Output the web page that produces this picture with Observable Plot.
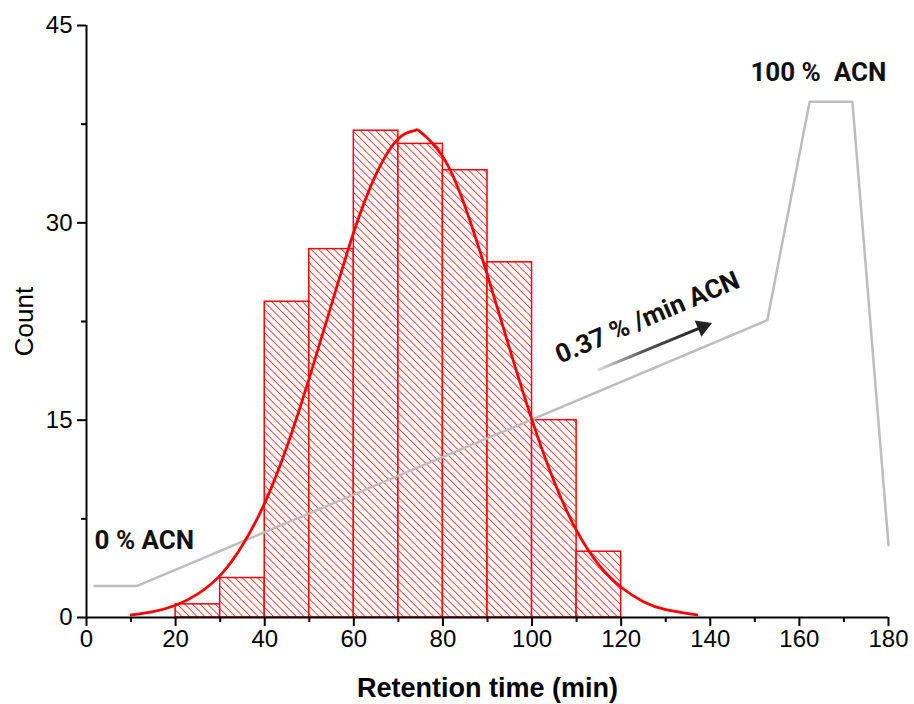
<!DOCTYPE html>
<html><head><meta charset="utf-8">
<script src="https://cdn.jsdelivr.net/npm/d3@7"></script>
<script src="https://cdn.jsdelivr.net/npm/@observablehq/plot@0.6"></script>
<style>body{margin:0;background:#fff}</style>
</head><body><div id="chart"></div>
<script>
// Histogram bins (retention time, min) and counts
const binStart = [20, 30, 40, 50, 60, 70, 80, 90, 100, 110];
const binEnd   = [30, 40, 50, 60, 70, 80, 90, 100, 110, 120];
const counts   = [1, 3, 24, 28, 37, 36, 34, 27, 15, 5];

// Fitted curve
const fitX = [10, 15, 20, 25, 30, 35, 40, 45, 50, 55, 60, 65, 70, 73.5, 75, 80, 85, 90, 95, 100, 105, 110, 115, 120, 125, 130, 137];
const fitY = [0.2, 0.45, 0.93, 1.8, 3.2, 5.5, 8.7, 13.0, 18.2, 23.8, 29.3, 33.7, 36.4, 37.0, 36.9, 35.0, 31.2, 26.0, 20.4, 15.0, 10.3, 6.6, 4.0, 2.3, 1.2, 0.6, 0.2];

// ACN gradient profile (gray line), in count-axis units
const gradX = [1.8, 11.4, 152.8, 162.3, 171.9, 180];
const gradY = [2.4, 2.4, 22.6, 39.2, 39.2, 5.5];

// Axis ticks
const xTicks = [0, 20, 40, 60, 80, 100, 120, 140, 160, 180];
const xMinorTicks = [10, 30, 50, 70, 90, 110, 130, 150, 170];
const yTicks = [0, 15, 30, 45];
const yMinorTicks = [7.5, 22.5, 37.5];

// Annotations
const labels = [
  {x: 1.8, y: 5.85, text: "0 % ACN", rotate: 0},
  {x: 149, y: 41.4, text: "100 %\u00a0 ACN", rotate: 0},
  {x: 125.9, y: 22.8, text: "0.37 % /min ACN", rotate: -23}
];
const arrowLine = [{x1: 114.7, y1: 18.8, x2: 137.6, y2: 22.0}];
const arrowHead = [{x: 138.3, y: 22.1}];

const bins = binStart.map((s, i) => ({x1: s, x2: binEnd[i], y: counts[i]}));
const fit = fitX.map((x, i) => ({x, y: fitY[i]}));
const grad = gradX.map((x, i) => ({x, y: gradY[i]}));

const plot = Plot.plot({
  width: 914, height: 704,
  marginLeft: 86, marginRight: 26, marginTop: 25, marginBottom: 87,
  style: {fontFamily: "'Liberation Sans', Arial, sans-serif", fontSize: "24px", background: "#fff", color: "#000"},
  x: {domain: [0, 180]},
  y: {domain: [0, 45]},
  marks: [
    Plot.rectY(bins, {x1: "x1", x2: "x2", y: "y", fill: "url(#hatch)", stroke: "#ff0000", strokeWidth: 1.5}),
    Plot.line(grad, {x: "x", y: "y", stroke: "#bdbdbd", strokeWidth: 2.5}),
    Plot.line(fit, {x: "x", y: "y", stroke: "#ff0000", strokeWidth: 2.8, curve: "natural"}),
    Plot.link(arrowLine, {x1: "x1", y1: "y1", x2: "x2", y2: "y2", stroke: "url(#arrowGrad)", strokeWidth: 3}),
    Plot.dot(arrowHead, {x: "x", y: "y", symbol: "triangle", r: 6.5, fill: "#222", stroke: "none", rotate: 67.5}),
    Plot.text(labels.filter(d => d.rotate === 0), {x: "x", y: "y", text: "text", textAnchor: "start", fontFamily: "Roboto", fontWeight: "bold", fontSize: 26, fill: "#111"}),
    Plot.text(labels.filter(d => d.rotate !== 0), {x: "x", y: "y", text: "text", textAnchor: "middle", rotate: -23, fontFamily: "Roboto", fontWeight: "bold", fontSize: 26, fill: "#111"}),
    Plot.ruleY([0], {strokeWidth: 2}),
    Plot.ruleX([0], {strokeWidth: 2}),
    Plot.axisX({ticks: xTicks, tickSize: 9, tickPadding: 3, strokeWidth: 2, fontSize: 24, label: null}),
    Plot.axisX({ticks: xMinorTicks, tickSize: 5, tickFormat: () => "", strokeWidth: 2, label: null}),
    Plot.axisY({ticks: yTicks, tickSize: 9, tickPadding: 5, strokeWidth: 2, fontSize: 24, label: null}),
    Plot.axisY({ticks: yMinorTicks, tickSize: 5, tickFormat: () => "", strokeWidth: 2, label: null}),
    Plot.text(["Retention time (min)"], {frameAnchor: "bottom", dy: 71, textAnchor: "middle", lineAnchor: "middle", fontWeight: "bold", fontSize: 27, fill: "#000"}),
    Plot.text(["Count"], {frameAnchor: "left", dx: -62, rotate: -90, textAnchor: "middle", lineAnchor: "middle", fontSize: 26, fill: "#000"})
  ]
});

// make sure tick labels use the intended size
d3.select(plot).selectAll('g[aria-label="x-axis tick label"], g[aria-label="y-axis tick label"]')
  .attr("font-size", 24).style("font-size", "24px");

const defs = d3.select(plot).insert("defs", ":first-child");
const pat = defs.append("pattern")
  .attr("id", "hatch")
  .attr("patternUnits", "userSpaceOnUse")
  .attr("width", 5.4).attr("height", 5.4)
  .attr("patternTransform", "rotate(-45)");
pat.append("rect").attr("width", 5.4).attr("height", 5.4).attr("fill", "#fff");
pat.append("line").attr("x1", 0).attr("y1", 0).attr("x2", 0).attr("y2", 5.4)
  .attr("stroke", "#ff0000").attr("stroke-width", 1.4);
const lg = defs.append("linearGradient").attr("id", "arrowGrad")
  .attr("x1", 0).attr("y1", 0).attr("x2", 1).attr("y2", 0);
lg.append("stop").attr("offset", "0%").attr("stop-color", "#e0e0e0");
lg.append("stop").attr("offset", "45%").attr("stop-color", "#555");
lg.append("stop").attr("offset", "100%").attr("stop-color", "#222");

document.getElementById("chart").appendChild(plot);
</script>
</body></html>
